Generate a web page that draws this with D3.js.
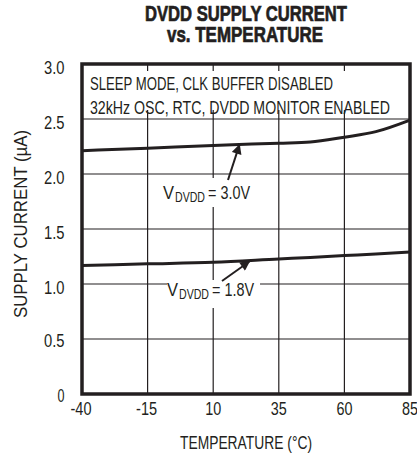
<!DOCTYPE html>
<html lang="en">
<head>
<meta charset="UTF-8">
<title>DVDD Supply Current vs. Temperature</title>
<script src="https://d3js.org/d3.v7.min.js"></script>
<style>
body { margin: 0; background: #fff; }
text {
  font-family: "Liberation Sans", Arial, sans-serif;
  fill: #231f20;
}
.grid line { stroke: #231f20; stroke-width: 1.2; }
.curve { fill: none; stroke: #231f20; stroke-width: 3; }
.title { font-weight: bold; stroke: #231f20; stroke-width: 0.7; }
</style>
</head>
<body>
<svg id="chart" width="417" height="458"></svg>
<script>
// data
const temps = [-40, -15, 10, 35, 47, 60, 72, 85];
const vdd30 = [2.212, 2.235, 2.26, 2.28, 2.29, 2.335, 2.385, 2.49];
const vdd18 = [1.168, 1.183, 1.198, 1.228, 1.242, 1.258, 1.272, 1.29];
const xTicks = [-40, -15, 10, 35, 60, 85];
const yTicks = [0, 0.5, 1.0, 1.5, 2.0, 2.5, 3.0];

const svg = d3.select("#chart");
const pL = 82, pR = 410, pT = 64, pB = 394;

const x = d3.scaleLinear().domain([-40, 85]).range([pL, pR]);
const y = d3.scaleLinear().domain([0, 3]).range([pB, pT]);

// condensed look: squeeze text into the width it has in the picture
function txt(px, py, str, size, width, anchor) {
  const t = svg.append("text").attr("x", px).attr("y", py)
    .attr("text-anchor", anchor || "start").style("font-size", size + "px").text(str);
  if (width) t.attr("textLength", width).attr("lengthAdjust", "spacingAndGlyphs");
  return t;
}

// title
txt(246, 21, "DVDD SUPPLY CURRENT", 21.5, 202, "middle").attr("class", "title");
txt(245, 42, "vs. TEMPERATURE", 21.5, 156, "middle").attr("class", "title");

// grid
const grid = svg.append("g").attr("class", "grid");
grid.selectAll(".vx").data(xTicks.slice(1, -1)).join("line")
  .attr("x1", d => x(d)).attr("x2", d => x(d)).attr("y1", pT).attr("y2", pB);
grid.selectAll(".hy").data(yTicks.slice(1, -1)).join("line")
  .attr("x1", pL).attr("x2", pR).attr("y1", d => y(d)).attr("y2", d => y(d));

// white patches where labels cut the grid
svg.append("rect").attr("x", pL + 4).attr("y", pT + 7).attr("width", pR - pL - 8).attr("height", y(2.5) - pT - 16).attr("fill", "#fff");
svg.append("rect").attr("x", x(-7.6)).attr("y", 178).attr("width", 94).attr("height", 29).attr("fill", "#fff");
svg.append("rect").attr("x", x(-7.6)).attr("y", 280).attr("width", 93).attr("height", 28).attr("fill", "#fff");

// annotation
txt(90, 90, "SLEEP MODE, CLK BUFFER DISABLED", 18.5, 243);
txt(90, 114, "32kHz OSC, RTC, DVDD MONITOR ENABLED", 18.5, 300);

// curves
const line = d3.line().curve(d3.curveMonotoneX).x(d => x(d[0])).y(d => y(d[1]));
svg.append("path").attr("class", "curve").attr("d", line(temps.map((t, i) => [t, vdd30[i]])));
svg.append("path").attr("class", "curve").attr("d", line(temps.map((t, i) => [t, vdd18[i]])));

// frame
svg.append("rect").attr("x", pL).attr("y", pT).attr("width", pR - pL).attr("height", pB - pT)
  .attr("fill", "none").attr("stroke", "#231f20").attr("stroke-width", 3.5);

// curve labels with arrows
svg.append("defs").append("marker").attr("id", "arr").attr("viewBox", "0 0 10 10")
  .attr("refX", 9).attr("refY", 5).attr("markerWidth", 6).attr("markerHeight", 5)
  .attr("orient", "auto").append("path").attr("d", "M0,0L10,5L0,10z").attr("fill", "#231f20");

function label(px, py, val) {
  txt(px, py, "V", 18.5, 11);
  txt(px + 12, py + 3, "DVDD", 14, 30);
  txt(px + 45, py, "= " + val, 18.5, 42);
}
label(163, 199, "3.0V");
label(167, 296, "1.8V");

svg.append("line").attr("x1", 228).attr("y1", 180).attr("x2", x(20)).attr("y2", y(2.265))
  .attr("stroke", "#231f20").attr("stroke-width", 2).attr("marker-end", "url(#arr)");
svg.append("line").attr("x1", 222).attr("y1", 281).attr("x2", x(23.8)).attr("y2", y(1.205))
  .attr("stroke", "#231f20").attr("stroke-width", 2).attr("marker-end", "url(#arr)");

// axis labels
svg.selectAll(".yl").data(yTicks).join("text")
  .attr("x", 64.5).attr("y", d => y(d) + (d < 1 ? 7.5 : 10)).attr("text-anchor", "end").style("font-size", "18.5px")
  .attr("textLength", d => d === 0 ? 7 : 20.5).attr("lengthAdjust", "spacingAndGlyphs")
  .text(d => d === 0 ? "0" : d.toFixed(1));
svg.selectAll(".xl").data(xTicks).join("text")
  .attr("x", d => x(d) + (d < 0 ? -1 : 0)).attr("y", 415).attr("text-anchor", "middle").style("font-size", "18.5px")
  .attr("textLength", d => d < 0 ? 21 : 16).attr("lengthAdjust", "spacingAndGlyphs")
  .text(d => d);
txt(246, 449, "TEMPERATURE (°C)", 18.5, 132, "middle");
txt(0, 0, "SUPPLY CURRENT (µA)", 18.5, 188, "middle")
  .attr("transform", "translate(27,224) rotate(-90)");
</script>
</body>
</html>
